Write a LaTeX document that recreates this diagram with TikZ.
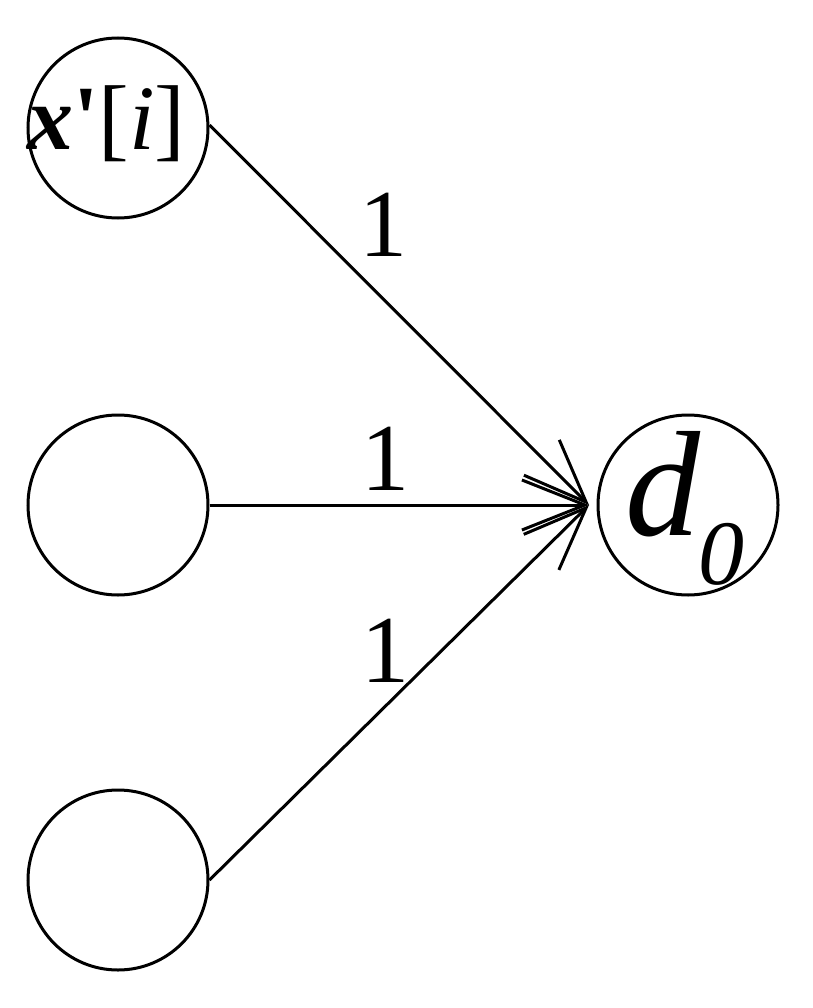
\documentclass[tikz,border=0pt]{standalone}
\usepackage{fontspec}
\setmainfont{Liberation Serif}
\usetikzlibrary{arrows.meta}
\begin{document}
\begin{tikzpicture}[x=1pt,y=-1pt,
  circ/.style={draw, circle, line width=3pt, minimum size=180pt, inner sep=0pt},
  edge/.style={line width=3pt, -{Straight Barb[length=63pt,width=50pt,line width=3pt]}},
  wlabel/.style={anchor=base, inner sep=0pt, font=\fontsize{96}{96}\selectfont}
]
\useasboundingbox (0,0) rectangle (812,1008);
\node[circ] (x) at (118,128) {};
\node[circ] (m) at (118,505) {};
\node[circ] (b) at (118,880) {};
\node[circ] (d) at (688,505) {};
\coordinate (tip) at (589,505);
\node[anchor=base west, inner sep=0pt, font=\fontsize{92}{92}\selectfont] (xt) at (27,150)
  {{\bfseries\itshape x}{\bfseries\textquotesingle}[{\itshape i}]};
\node[anchor=base west, inner sep=0pt] (dt) at (625,535)
  {\fontsize{150}{150}\selectfont\itshape d\hspace{-2pt}\raisebox{-49pt}{\fontsize{92}{92}\selectfont 0}};
\draw[edge] ([yshift=3pt]x.east) -- (tip);
\draw[edge] (m.east) -- (tip);
\draw[edge] (b.east) -- (tip);
\node[wlabel] (l1) at (383,256) {1};
\node[wlabel] (l2) at (385,490) {1};
\node[wlabel] (l3) at (385,682) {1};
\end{tikzpicture}
\end{document}
